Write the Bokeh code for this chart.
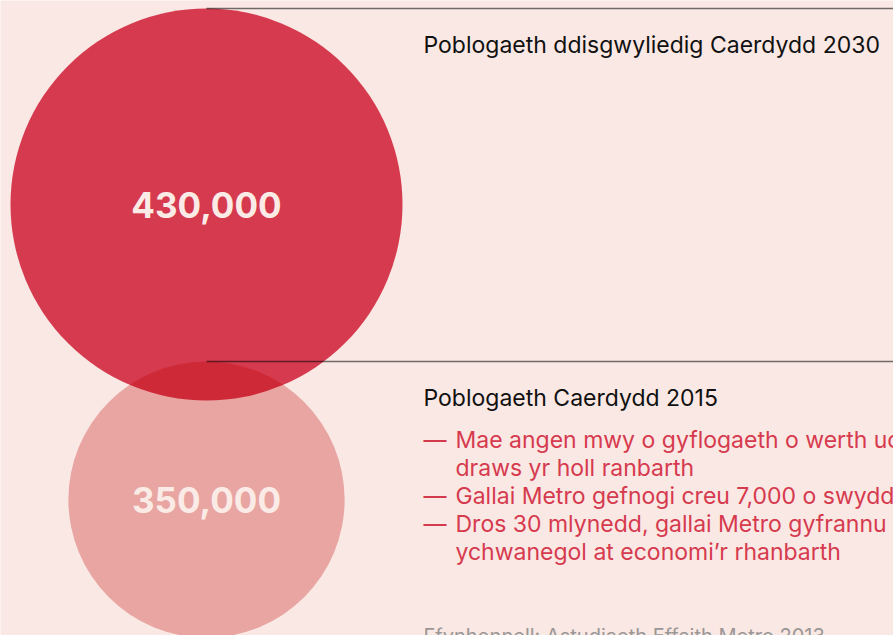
from bokeh.plotting import figure
from bokeh.models import Range1d
from bokeh.core.properties import value
from bokeh.embed import file_html
from bokeh.resources import INLINE

# ---- data ----
years = ["2030", "2015"]
populations = [430000, 350000]
pop_labels = ["430,000", "350,000"]
titles = ["Poblogaeth ddisgwyliedig Caerdydd 2030", "Poblogaeth Caerdydd 2015"]
bullets = [
    ["Mae angen mwy o gyflogaeth o werth uchel", "draws yr holl ranbarth"],
    ["Gallai Metro gefnogi creu 7,000 o swyddi"],
    ["Dros 30 mlynedd, gallai Metro gyfrannu", "ychwanegol at economi’r rhanbarth"],
]
source = "Ffynhonnell: Astudiaeth Effaith Metro 2013"

# ---- layout / style ----
W, H = 893, 635
BG = "#FAE8E4"
FONT = "Inter"
R_MAX = 196.0
row_tops = [8, 361]
cx = 206
text_x = 423
indent_x = 455
line_h = 28
first_bullet_y = 439

def radius(v):
    return R_MAX * (v / max(populations)) ** 1.7

radii = [radius(v) for v in populations]
centers_y = [t + r for t, r in zip(row_tops, radii)]

p = figure(width=W, height=H, output_backend="svg", toolbar_location=None,
           x_range=Range1d(0, W), y_range=Range1d(H, 0),
           min_border=0, background_fill_color=BG, border_fill_color=BG,
           outline_line_color=None)
p.axis.visible = False
p.grid.visible = False

# big circle (2030)
p.circle(x=[cx], y=[centers_y[0]], radius=[radii[0]], fill_color="#D63A4E",
         line_color=None)
# small circle (2015), semi-transparent so the overlap darkens
p.circle(x=[cx], y=[centers_y[1]], radius=[radii[1]], fill_color="#BE0000",
         fill_alpha=0.285, line_color=None)

# leader lines from circle tops
p.segment(x0=[cx, cx], y0=row_tops, x1=[W, W], y1=row_tops,
          line_color="black", line_alpha=0.55, line_width=1.3)

# value labels
p.text(x=[cx, cx], y=centers_y, text=pop_labels, text_align="center",
       text_baseline="middle", text_color="#FBEBE7",
       text_font=value(FONT), text_font_size="35px", text_font_style="bold")

# titles
p.text(x=[text_x, text_x], y=[44, 397], text=titles, text_align="left",
       text_baseline="alphabetic", text_color="#111111",
       text_font=value(FONT), text_font_size="23px")

# bullets
dash_y, line_x, line_y, line_t = [], [], [], []
y = first_bullet_y
for b in bullets:
    dash_y.append(y)
    for ln in b:
        line_x.append(indent_x)
        line_y.append(y)
        line_t.append(ln)
        y += line_h
p.text(x=[text_x] * len(dash_y), y=dash_y, text=["—"] * len(dash_y),
       text_align="left", text_baseline="alphabetic", text_color="#D63A4E",
       text_font=value(FONT), text_font_size="23px")
p.text(x=line_x, y=line_y, text=line_t,
       text_align="left", text_baseline="alphabetic", text_color="#D63A4E",
       text_font=value(FONT), text_font_size="23px")

# source
p.text(x=[text_x], y=[635], text=[source], text_align="left",
       text_baseline="alphabetic", text_color="#9A9797",
       text_font=value(FONT), text_font_size="20px")

open("out.html", "w").write(file_html(p, INLINE))
